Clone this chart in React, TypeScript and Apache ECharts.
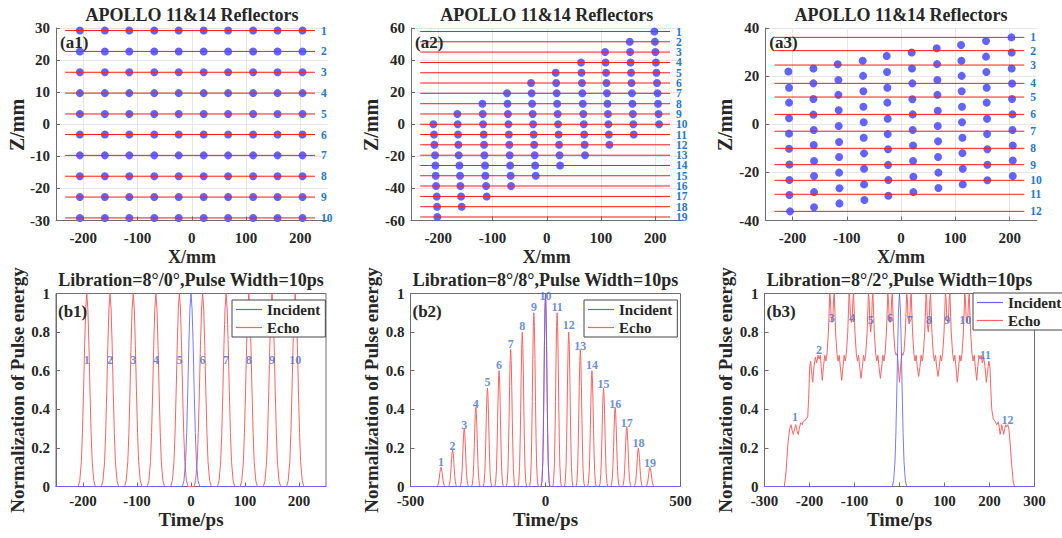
import { useEffect, useRef } from "react";
import * as echarts from "echarts";

const FONT = "'Liberation Serif','Times New Roman',serif";
const AXIS_COLOR = "#6e6e6e";
const TEXT_COLOR = "#262626";
const DOT_COLOR = "#6262ff";
const ROW_LINE_COLOR = "#ff1a1a";
const ROW_LABEL_COLOR = "#1f78c8";
const PEAK_LABEL_COLOR = "#4470cc";
const ECHO_COLOR = "#ff6262";
const INC_COLOR = "#6262ff";

// ---------- (a1) ----------
const a1ColX = [-206, -160, -115, -69, -24, 22, 67, 113, 158, 204];
const a1RowZ = [29.2, 22.7, 16.2, 9.7, 3.2, -3.2, -9.7, -16.2, -22.7, -29.2];

// ---------- (a2) ----------
const a2RowZ = [57.8, 51.4, 45.0, 38.5, 32.1, 25.7, 19.3, 12.8, 6.4, 0, -6.4, -12.8, -19.3, -25.7, -32.1, -38.5, -45.0, -51.4, -57.8];
const a2ColFirstRow = [9, 8, 7, 6, 5, 4, 3, 2, 1, 0];
const a2ColX = [
  [-208.8, -207.6, -206.9, -205.7, -205.1, -204.5, -203.9, -202.6, -202.0, -201.4],
  [-164.6, -164.0, -163.4, -162.8, -162.2, -160.9, -159.7, -159.1, -157.8, -156.6],
  [-118.5, -117.9, -117.3, -116.1, -115.5, -114.9, -113.6, -113.0, -111.8, -110.6],
  [-73.1, -72.3, -71.5, -70.6, -69.8, -69.0, -68.2, -67.4, -66.5, -65.7],
  [-28.9, -27.9, -27.0, -26.0, -25.1, -24.1, -23.2, -22.2, -21.3, -20.3],
  [16.5, 17.4, 18.3, 19.2, 20.1, 20.9, 21.8, 22.7, 23.6, 24.5],
  [63.2, 64.0, 64.8, 65.6, 66.4, 67.3, 68.1, 68.9, 69.7, 70.5],
  [107.4, 108.3, 109.2, 110.0, 110.9, 111.8, 112.7, 113.5, 114.4, 115.3],
  [152.8, 153.6, 154.4, 155.3, 156.1, 156.9, 157.7, 158.6, 159.4, 160.2],
  [198.2, 199.2, 200.1, 201.1, 202.0, 203.0, 204.0, 204.9, 205.9, 206.8],
];

// ---------- (a3) ----------
const a3RowZ = [36.1, 30.6, 24.6, 17.0, 11.3, 4.1, -2.9, -10.0, -16.8, -23.3, -29.1, -36.2];
const a3ColX = [
  [-207.5, -206.3, -206.3, -206.3, -206.3, -206.3, -205.7, -205.7, -205.7, -204.4],
  [-161.4, -161.4, -161.4, -161.4, -160.8, -160.8, -160.2, -160.2, -160.2, -160.2],
  [-116.6, -115.4, -115.4, -114.8, -114.8, -114.1, -114.1, -114.1, -113.5, -113.5],
  [-70.6, -70.0, -69.4, -69.4, -68.8, -68.8, -68.1, -68.1, -68.1, -67.5],
  [-26.4, -25.8, -25.2, -25.2, -24.6, -24.6, -23.9, -23.9, -23.3, -23.3],
  [19.6, 20.2, 20.8, 20.8, 21.4, 21.4, 22.1, 22.1, 22.7, 22.7],
  [65.7, 66.3, 66.9, 66.9, 67.6, 67.6, 68.2, 68.2, 68.8, 68.8],
  [110.5, 111.1, 111.7, 111.7, 112.3, 112.3, 113.0, 113.0, 113.6, 113.6],
  [156.5, 156.5, 157.1, 157.7, 157.7, 158.4, 158.4, 159.0, 159.0, 159.0],
  [203.2, 203.8, 203.8, 204.4, 204.4, 205.1, 205.1, 205.7, 205.7, 205.7],
];
const a3ColZ = [
  [21.9, 15.2, 9.0, 2.5, -3.9, -10.2, -16.7, -23.2, -29.4, -36.2],
  [23.2, 17.0, 10.5, 4.0, -2.4, -8.6, -15.3, -21.5, -28.2, -34.5],
  [24.9, 18.4, 12.2, 5.8, -0.7, -7.4, -13.6, -20.1, -26.6, -32.9],
  [26.4, 20.1, 13.7, 7.3, 0.8, -5.6, -12.1, -18.5, -25.0, -31.5],
  [28.4, 21.7, 15.2, 9.0, 2.3, -4.1, -10.4, -16.9, -23.2, -29.7],
  [29.8, 23.2, 17.0, 10.4, 4.1, -2.4, -8.8, -15.3, -21.8, -28.2],
  [31.6, 25.0, 18.4, 12.2, 5.6, -0.7, -7.1, -13.6, -20.1, -26.5],
  [32.9, 26.4, 20.1, 13.7, 7.3, 0.8, -5.6, -12.0, -18.5, -25.0],
  [34.6, 28.1, 21.7, 15.2, 9.0, 2.3, -4.1, -10.4, -16.8, -23.3],
  [36.1, 29.8, 23.2, 16.9, 10.5, 4.1, -2.4, -8.8, -15.1, -21.5],
];
const rowLineX = [-233, 227];

// ---------- pulse shape read from (b1) ----------
const pulseOffsets = [-16, -13, -10, -8, -6, -4, -2, 0, 2, 4, 6, 8, 10, 13, 16];
const pulseShape = [0, 0.03, 0.13, 0.28, 0.49, 0.73, 0.92, 1, 0.92, 0.73, 0.49, 0.28, 0.13, 0.03, 0];

// ---------- (b1) ----------
const b1PeakT = [-193, -150, -107, -65, -21.5, 21.5, 65, 107, 150, 193];
const b1PeakA = [1, 1, 1, 1, 1, 1, 1, 1, 1, 1];
const b1LabelY = [0.655, 0.655, 0.655, 0.655, 0.655, 0.655, 0.655, 0.655, 0.655, 0.655];

// ---------- (b2) ----------
const b2PeakT = [-387, -344, -301, -258, -215, -172, -129, -86, -43, 0, 43, 86, 129, 172, 215, 258, 301, 344, 387];
const b2PeakA = [0.1, 0.19, 0.3, 0.41, 0.51, 0.6, 0.71, 0.8, 0.9, 1.0, 0.9, 0.8, 0.71, 0.6, 0.51, 0.41, 0.31, 0.2, 0.1];
const b2LabelY = [0.125, 0.21, 0.32, 0.43, 0.54, 0.63, 0.74, 0.83, 0.93, 0.985, 0.93, 0.835, 0.73, 0.63, 0.53, 0.43, 0.33, 0.225, 0.122];

// ---------- (b3) echo trace ----------
const b3Echo: number[][] = [
  [-300, 0], [-256, 0], [-252, 0.08], [-248, 0.22], [-244, 0.3], [-241, 0.32], [-238.5, 0.29], [-236, 0.27],
  [-233, 0.3], [-230.5, 0.32], [-228, 0.29], [-225, 0.27], [-222, 0.31], [-219.5, 0.33], [-216, 0.32],
  [-213.5, 0.34], [-211, 0.34], [-207, 0.35], [-204, 0.36], [-202, 0.45], [-199.5, 0.62], [-197.5, 0.65],
  [-195.5, 0.6], [-193, 0.54], [-190, 0.62], [-187, 0.67], [-184, 0.64], [-181, 0.68], [-178.5, 0.66],
  [-176, 0.68], [-174, 0.62], [-171.5, 0.55], [-169, 0.62], [-166, 0.68], [-163.5, 0.65], [-161, 0.69], [-158, 0.8],
  [-155, 1], [-153.5, 0.97], [-152, 0.88], [-150, 0.85], [-148, 0.88], [-146.5, 0.97], [-145, 1],
  [-142, 0.8], [-139, 0.69], [-136.5, 0.65], [-134, 0.68], [-131.5, 0.62], [-128.5, 0.55], [-125.5, 0.62],
  [-123, 0.68], [-120.5, 0.65], [-118, 0.69], [-115, 0.8],
  [-112, 1], [-110.5, 0.97], [-109, 0.88], [-107, 0.85], [-105, 0.88], [-103.5, 0.97], [-102, 1],
  [-99, 0.8], [-96, 0.69], [-93.5, 0.65], [-91, 0.68], [-88.5, 0.62], [-85.5, 0.56], [-82.5, 0.62],
  [-80, 0.68], [-77.5, 0.65], [-75, 0.69], [-72, 0.8],
  [-69, 1], [-67.5, 0.97], [-66, 0.86], [-64, 0.8], [-62, 0.86], [-60.5, 0.97], [-59, 1],
  [-56, 0.8], [-53, 0.69], [-50.5, 0.65], [-48, 0.68], [-45.5, 0.62], [-42.5, 0.56], [-39.5, 0.62],
  [-37, 0.68], [-34.5, 0.65], [-32, 0.69], [-29, 0.8],
  [-26, 1], [-24.5, 0.97], [-23, 0.88], [-21, 0.85], [-19, 0.88], [-17.5, 0.97], [-16, 1],
  [-13, 0.8], [-10, 0.7], [-7.5, 0.68], [-5, 0.69], [-2.5, 0.62], [0, 0.54], [2.5, 0.62], [5, 0.69],
  [7.5, 0.68], [10, 0.7], [13, 0.8],
  [16, 1], [17.5, 0.97], [19, 0.88], [21, 0.85], [23, 0.88], [24.5, 0.97], [26, 1],
  [29, 0.8], [32, 0.69], [34.5, 0.65], [37, 0.68], [39.5, 0.62], [42.5, 0.57], [45.5, 0.62], [48, 0.68],
  [50.5, 0.65], [53, 0.69], [56, 0.8],
  [59, 1], [60.5, 0.97], [62, 0.84], [64, 0.8], [66, 0.86], [67.5, 0.97], [69, 1],
  [72, 0.8], [75, 0.69], [77.5, 0.65], [80, 0.68], [82.5, 0.62], [85.5, 0.57], [88.5, 0.62], [91, 0.68],
  [93.5, 0.65], [96, 0.69], [99, 0.8],
  [102, 1], [103.5, 0.97], [105, 0.88], [107, 0.85], [109, 0.88], [110.5, 0.97], [112, 1],
  [115, 0.8], [118, 0.69], [120.5, 0.65], [123, 0.68], [125.5, 0.62], [128.5, 0.54], [131.5, 0.62],
  [134, 0.68], [136.5, 0.65], [139, 0.69], [142, 0.8],
  [145, 1], [146.5, 0.97], [148, 0.88], [150, 0.85], [152, 0.88], [153.5, 0.97], [155, 1],
  [158, 0.8], [161, 0.69], [163.5, 0.65], [166, 0.68], [168.5, 0.62], [171.5, 0.55], [174, 0.62],
  [176.5, 0.68], [179, 0.66], [181.5, 0.68], [184, 0.64], [187, 0.67], [190, 0.62], [193, 0.54],
  [196, 0.6], [198.5, 0.65], [201, 0.62], [203, 0.5], [205, 0.4], [208.5, 0.35], [212, 0.34],
  [214, 0.33], [216, 0.32], [219.5, 0.335], [221.5, 0.31], [223.5, 0.27], [225.5, 0.29], [227, 0.32],
  [229, 0.3], [231.5, 0.27], [234, 0.3], [236, 0.32], [238, 0.31], [240.5, 0.32], [243, 0.3],
  [246, 0.22], [249, 0.12], [253, 0.02], [256, 0], [300, 0],
];
const b3LabelT = [-232, -179, -150.5, -105.5, -64, -21, 23, 65.5, 106.3, 146, 191, 240];
const b3LabelY = [0.36, 0.708, 0.873, 0.873, 0.865, 0.873, 0.865, 0.865, 0.865, 0.865, 0.682, 0.344];

const incidentT = [0];
const incidentA = [1];

const aTitle = "APOLLO 11&14 Reflectors";
const bTitles = [
  "Libration=8°/0°,Pulse Width=10ps",
  "Libration=8°/8°,Pulse Width=10ps",
  "Libration=8°/2°,Pulse Width=10ps",
];

function pulseTrain(centers: number[], amps: number[], lo: number, hi: number) {
  const pts: number[][] = [[lo, 0]];
  centers.forEach((c, i) => {
    pulseOffsets.forEach((o, k) => pts.push([c + o, amps[i] * pulseShape[k]]));
  });
  pts.push([hi, 0]);
  return pts;
}

function buildOption() {
  const grids = [
    { left: 56, top: 28, width: 271.5, height: 192.5 },
    { left: 411, top: 28, width: 271.5, height: 192.5 },
    { left: 765.3, top: 28, width: 271.5, height: 192.5 },
    { left: 56, top: 293.5, width: 270, height: 193, show: true, borderColor: AXIS_COLOR, borderWidth: 1 },
    { left: 410.5, top: 293.5, width: 270, height: 193, show: true, borderColor: AXIS_COLOR, borderWidth: 1 },
    { left: 764.5, top: 293.5, width: 270, height: 193, show: true, borderColor: AXIS_COLOR, borderWidth: 1 },
  ];
  const labelStyle = { color: TEXT_COLOR, fontFamily: FONT, fontWeight: "bold" as const, fontSize: 15 };
  const axisLine = { show: true, onZero: false, lineStyle: { color: AXIS_COLOR, width: 1 } };
  const gridLine = { show: true, lineStyle: { color: "#e6e6e6", width: 1 } };

  const aXTicks = [-200, -100, 0, 100, 200];
  const xAxis: any[] = [0, 1, 2].map((i) => ({
    gridIndex: i, type: "value", min: -250, max: 250,
    axisLine, axisTick: { show: true, inside: true, length: 4, customValues: aXTicks, lineStyle: { color: AXIS_COLOR } },
    axisLabel: { ...labelStyle, margin: 10, customValues: aXTicks },
    splitLine: gridLine,
  }));
  xAxis.push({
    gridIndex: 3, type: "value", min: -250, max: 250, axisLine,
    axisTick: { show: true, inside: true, length: 4, customValues: aXTicks, lineStyle: { color: AXIS_COLOR } },
    axisLabel: { ...labelStyle, margin: 7, customValues: aXTicks }, splitLine: { show: false },
  });
  xAxis.push({
    gridIndex: 4, type: "value", min: -500, max: 500, interval: 500, axisLine,
    axisTick: { show: true, inside: true, length: 4, lineStyle: { color: AXIS_COLOR } },
    axisLabel: { ...labelStyle, margin: 7 }, splitLine: { show: false },
  });
  xAxis.push({
    gridIndex: 5, type: "value", min: -300, max: 300, interval: 100, axisLine,
    axisTick: { show: true, inside: true, length: 4, lineStyle: { color: AXIS_COLOR } },
    axisLabel: { ...labelStyle, margin: 7 }, splitLine: { show: false },
  });

  const aY = [[-30, 30, 10], [-60, 60, 20], [-40, 40, 20]];
  const yAxis: any[] = aY.map(([mn, mx, iv], i) => ({
    gridIndex: i, type: "value", min: mn, max: mx, interval: iv, axisLine,
    axisTick: { show: true, inside: true, length: 4, lineStyle: { color: AXIS_COLOR } },
    axisLabel: { ...labelStyle, margin: 6 }, splitLine: gridLine,
  }));
  [3, 4, 5].forEach((g) =>
    yAxis.push({
      gridIndex: g, type: "value", min: 0, max: 1, interval: 0.2, axisLine,
      axisTick: { show: true, inside: true, length: 4, lineStyle: { color: AXIS_COLOR } },
      axisLabel: { ...labelStyle, margin: 6 }, splitLine: { show: false },
    })
  );

  const series: any[] = [];
  const rowLines = (g: number, rows: number[]) => {
    rows.forEach((z, k) =>
      series.push({
        type: "line", xAxisIndex: g, yAxisIndex: g, silent: true, symbol: "none", z: 4,
        data: [[rowLineX[0], z], [rowLineX[1], z]],
        lineStyle: { color: ROW_LINE_COLOR, width: 1 },
        endLabel: {
          show: true, formatter: String(k + 1), distance: 6, color: ROW_LABEL_COLOR,
          fontSize: 11.5, lineHeight: 10, fontWeight: "bold", fontFamily: FONT,
        },
      })
    );
  };
  const dots = (g: number, data: number[][]) =>
    series.push({
      type: "scatter", xAxisIndex: g, yAxisIndex: g, silent: true, z: 2, symbolSize: 8,
      itemStyle: { color: DOT_COLOR, opacity: 1 }, data,
    });

  // a1
  const a1Dots: number[][] = [];
  a1RowZ.forEach((z) => a1ColX.forEach((x) => a1Dots.push([x, z])));
  dots(0, a1Dots);
  rowLines(0, a1RowZ);
  // a2
  const a2Dots: number[][] = [];
  a2ColX.forEach((col, c) => col.forEach((x, j) => a2Dots.push([x, a2RowZ[a2ColFirstRow[c] + j]])));
  dots(1, a2Dots);
  rowLines(1, a2RowZ);
  // a3
  const a3Dots: number[][] = [];
  a3ColX.forEach((col, c) => col.forEach((x, j) => a3Dots.push([x, a3ColZ[c][j]])));
  dots(2, a3Dots);
  rowLines(2, a3RowZ);

  const echoLine = (g: number, data: number[][]) =>
    series.push({
      type: "line", name: "Echo", xAxisIndex: g, yAxisIndex: g, silent: true, symbol: "none", z: 2,
      data, lineStyle: { color: ECHO_COLOR, width: 1 }, itemStyle: { color: ECHO_COLOR },
    });
  const incLine = (g: number, lo: number, hi: number) =>
    series.push({
      type: "line", name: "Incident", xAxisIndex: g, yAxisIndex: g, silent: true, symbol: "none", z: 3,
      data: pulseTrain(incidentT, incidentA, lo, hi), lineStyle: { color: INC_COLOR, width: 1, opacity: 0.85 },
      itemStyle: { color: INC_COLOR },
    });
  const peakLabels = (g: number, ts: number[], ys: number[]) =>
    series.push({
      type: "scatter", xAxisIndex: g, yAxisIndex: g, silent: true, z: 5, symbolSize: 1,
      itemStyle: { color: "rgba(0,0,0,0)" },
      data: ts.map((t, i) => [t, ys[i], i + 1]),
      label: {
        show: true, position: "inside", formatter: (p: any) => String(p.value[2]),
        color: PEAK_LABEL_COLOR, fontSize: 12, lineHeight: 11, fontWeight: "bold", fontFamily: FONT,
      },
    });

  echoLine(3, pulseTrain(b1PeakT, b1PeakA, -250, 250));
  incLine(3, -250, 250);
  peakLabels(3, b1PeakT, b1LabelY);

  echoLine(4, pulseTrain(b2PeakT, b2PeakA, -500, 500));
  incLine(4, -500, 500);
  peakLabels(4, b2PeakT, b2LabelY);

  echoLine(5, b3Echo);
  incLine(5, -300, 300);
  peakLabels(5, b3LabelT, b3LabelY);

  const legendBase = {
    orient: "vertical", data: ["Incident", "Echo"], itemWidth: 26, itemHeight: 12, itemGap: 3,
    icon: "path://M0,0L26,0L26,1.2L0,1.2Z",
    padding: [2, 5, 2, 4], borderColor: "#444", borderWidth: 1, backgroundColor: "#fff",
    textStyle: { fontFamily: FONT, fontWeight: "bold", fontSize: 15, color: TEXT_COLOR, lineHeight: 15 },
    selectedMode: false,
  };
  const legend = [
    { ...legendBase, left: 232, top: 300 },
    { ...legendBase, left: 584, top: 300 },
    { ...legendBase, left: 973, top: 293 },
  ];

  const txt = (text: string, x: number, y: number, size: number, align = "center", rotation = 0, color = TEXT_COLOR) => ({
    type: "text", x, y, rotation, silent: true, z: 10,
    style: {
      text, fill: color, font: `bold ${size}px ${FONT}`,
      align, textAlign: align, verticalAlign: "middle", textVerticalAlign: "middle",
    },
  });
  const aCenters = [192, 546.8, 901.1];
  const bCenters = [191, 545.5, 899.5];
  const yNameX = [17, 371, 725];
  const graphic: any[] = [];
  aCenters.forEach((cx, i) => {
    graphic.push(txt(aTitle, cx, 15, 18));
    graphic.push(txt("X/mm", cx, 257, 18));
    graphic.push(txt("Z/mm", yNameX[i], 125, 20, "center", Math.PI / 2));
    graphic.push(txt(`(a${i + 1})`, grids[i].left + 4, 42, 17, "left"));
  });
  bCenters.forEach((cx, i) => {
    graphic.push(txt(bTitles[i], cx, 280, 18));
    graphic.push(txt("Time/ps", cx, 519, 19));
    graphic.push(txt("Normalization of Pulse energy", yNameX[i], 390, 19, "center", Math.PI / 2));
    graphic.push(txt(`(b${i + 1})`, grids[i + 3].left + 2, 311, 17, "left"));
  });

  return {
    animation: false,
    backgroundColor: "#ffffff",
    textStyle: { fontFamily: FONT },
    grid: grids,
    xAxis, yAxis, series, legend, graphic,
  };
}

export default function App() {
  const ref = useRef<HTMLDivElement>(null);
  useEffect(() => {
    const chart = echarts.init(ref.current!, null, { renderer: "svg" });
    chart.setOption(buildOption() as any);
    return () => chart.dispose();
  }, []);
  return (
    <div
      ref={ref}
      style={{ position: "fixed", left: 0, top: 0, width: 1062, height: 538, background: "#fff" }}
    />
  );
}
